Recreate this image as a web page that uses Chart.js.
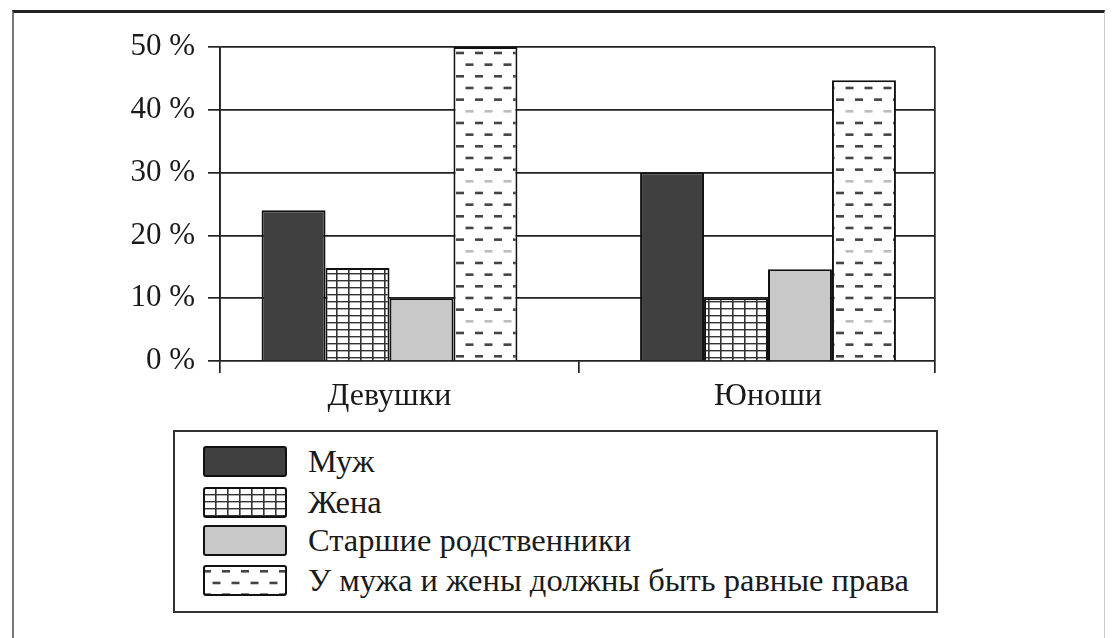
<!DOCTYPE html>
<html>
<head>
<meta charset="utf-8">
<script src="https://cdn.jsdelivr.net/npm/chart.js@4"></script>
<style>
  html, body { margin: 0; padding: 0; background: #fff; }
  body { width: 1118px; height: 638px; position: relative; overflow: hidden; font-family: "Liberation Serif", serif; color: #1a1a1a; }
  #frame { position: absolute; left: 12px; top: 10px; width: 1090px; height: 625px;
           border-top: 3px solid #222; border-left: 2px solid #777; border-bottom: 2px solid #333; border-right: 1px solid #ccc; }
  #wrap { position: absolute; left: 0; top: 0; width: 1118px; height: 430px; }
  #legend { position: absolute; left: 173px; top: 430px; width: 761px; height: 179px; border: 2px solid #333; }
  .row { position: absolute; left: 0; height: 31px; }
  .row canvas { position: absolute; left: 28px; top: 0; }
  .row span { position: absolute; left: 133px; top: -4px; font-size: 32.5px; line-height: 38px; white-space: nowrap; }
</style>
</head>
<body>
<div id="frame"></div>
<div id="wrap"><canvas id="chart" width="1118" height="430"></canvas></div>
<div id="legend"></div>
<script>
// ---------- data
const categories = ['Девушки', 'Юноши'];
const seriesNames = ['Муж', 'Жена', 'Старшие родственники', 'У мужа и жены должны быть равные права'];
const husband = [24, 30];
const wife = [14.8, 10];
const elders = [10, 14.6];
const equalRights = [50, 44.7];
const yTicks = [0, 10, 20, 30, 40, 50];

// ---------- fill patterns (dark, grid, light gray, dashes)
function makePattern(ctx, kind) {
  if (kind === 'dark') return '#404040';
  if (kind === 'gray') return '#c8c8c8';
  const tile = document.createElement('canvas');
  const t = tile.getContext('2d');
  if (kind === 'grid') {
    tile.width = 12; tile.height = 7;
    t.fillStyle = '#fff'; t.fillRect(0, 0, 12, 7);
    t.fillStyle = '#333';
    t.fillRect(0, 0, 1.6, 7);
    t.fillRect(0, 0, 12, 1.4);
  } else {
    tile.width = 19; tile.height = 70;
    t.fillStyle = '#fff'; t.fillRect(0, 0, 19, 70);
    for (let i = 0; i < 6; i++) {
      t.fillStyle = i === 3 ? '#bdbdbd' : '#444';
      const y = i * 11.67 + 5;
      const off = (i % 2) * 9.5;
      t.fillRect(off, y, 8, 2.6);
      if (off + 8 > 19) t.fillRect(off - 19, y, 8, 2.6);
    }
  }
  return ctx.createPattern(tile, 'repeat');
}

const kinds = ['dark', 'grid', 'gray', 'dash'];
const values = [husband, wife, elders, equalRights];

const ctx = document.getElementById('chart').getContext('2d');
const xMin = -0.4478, xMax = 1.4412;

const chart = new Chart(ctx, {
  type: 'bar',
  data: {
    datasets: seriesNames.map((name, k) => ({
      label: name,
      data: values[k].map((v, i) => ({ x: i, y: v })),
      backgroundColor: makePattern(ctx, kinds[k]),
      borderColor: '#111',
      borderWidth: 2,
      xAxisID: 'x',
      categoryPercentage: 0.676,
      barPercentage: 1.0
    }))
  },
  options: {
    responsive: false,
    animation: false,
    layout: { padding: { top: 47, left: 0, right: 183, bottom: 0 } },
    plugins: { legend: { display: false }, tooltip: { enabled: false } },
    scales: {
      y: {
        min: 0, max: 50,
        afterBuildTicks: (scale) => { scale.ticks = yTicks.map(v => ({ value: v })); },
        afterFit: (scale) => { scale.width = 220; },
        ticks: {
          color: '#1a1a1a', padding: 13,
          font: { family: 'Liberation Serif', size: 31 },
          callback: (v) => v + ' %'
        },
        grid: { color: '#222', lineWidth: 1.7, tickLength: 12 },
        border: { display: true, color: '#222', width: 1.7 }
      },
      xg: {
        type: 'linear', position: 'bottom', weight: 0,
        min: xMin, max: xMax, offset: false,
        afterBuildTicks: (scale) => { scale.ticks = [xMin, 0.5, xMax].map(v => ({ value: v })); },
        afterFit: (scale) => { scale.height = 12; },
        ticks: { display: false },
        grid: {
          offset: false,
          color: (c) => c.index === 1 ? 'rgba(0,0,0,0)' : '#222',
          tickColor: '#222', lineWidth: 1.7, tickLength: 12
        },
        border: { display: false }
      },
      x: {
        type: 'linear', position: 'bottom', weight: 1,
        min: xMin, max: xMax, offset: false,
        afterBuildTicks: (scale) => { scale.ticks = categories.map((c, i) => ({ value: i })); },
        afterFit: (scale) => { scale.height = 57; },
        ticks: {
          color: '#1a1a1a', padding: 4, autoSkip: false, maxRotation: 0,
          font: { family: 'Liberation Serif', size: 32 },
          callback: (v) => categories[v]
        },
        grid: { display: false, drawTicks: false, offset: false },
        border: { display: false }
      }
    }
  }
});

// ---------- legend (html text, swatches painted with the same fills)
const legend = document.getElementById('legend');
const rowTops = [14, 55, 93, 133];
seriesNames.forEach((name, k) => {
  const row = document.createElement('div');
  row.className = 'row';
  row.style.top = rowTops[k] + 'px';
  const sw = document.createElement('canvas');
  sw.width = 84; sw.height = 31;
  const s = sw.getContext('2d');
  s.fillStyle = makePattern(s, kinds[k]);
  s.beginPath();
  s.roundRect(1, 1, 82, 29, 2);
  s.fill();
  s.lineWidth = 2;
  s.strokeStyle = '#111';
  s.stroke();
  const label = document.createElement('span');
  label.textContent = name;
  row.appendChild(sw);
  row.appendChild(label);
  legend.appendChild(row);
});
</script>
</body>
</html>
